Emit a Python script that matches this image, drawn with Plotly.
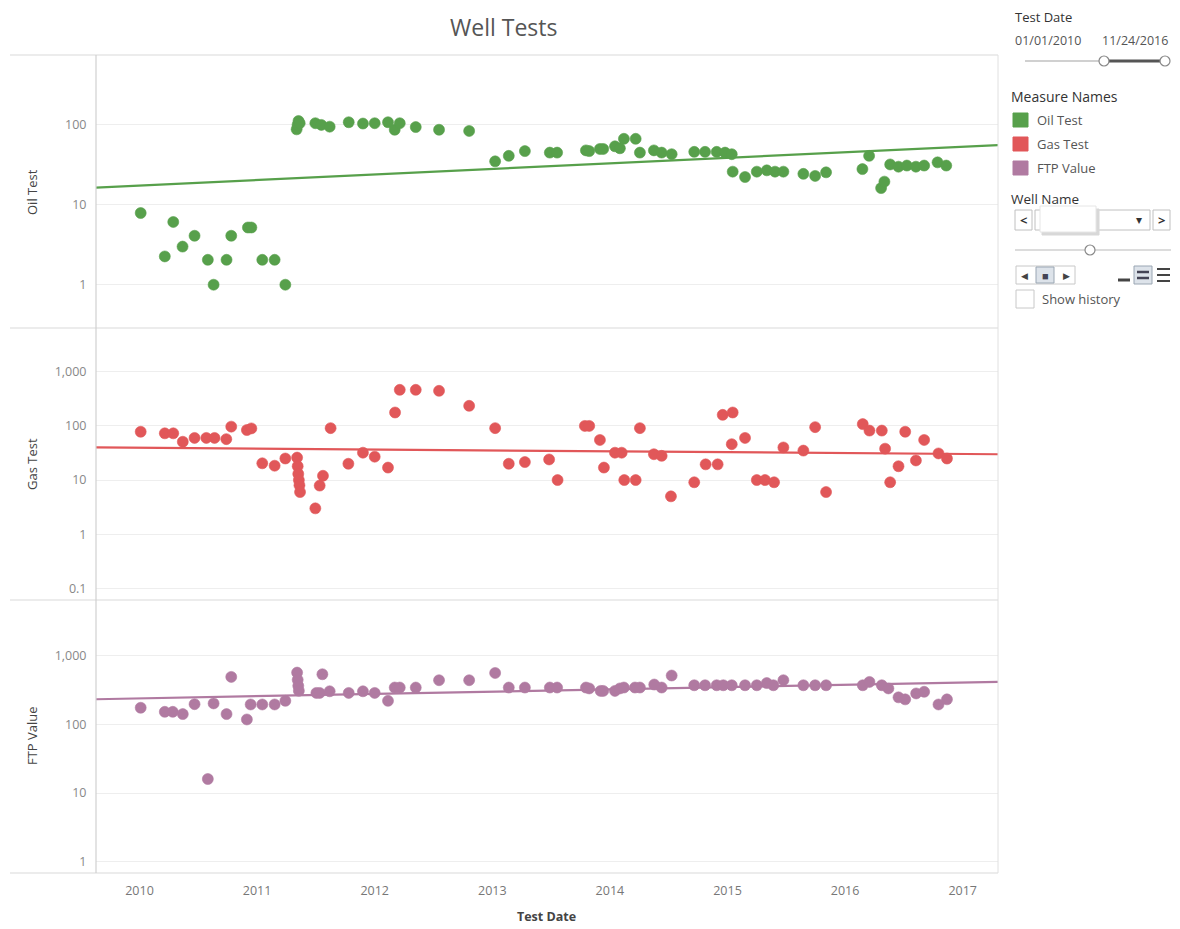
import plotly.graph_objects as go
from plotly.subplots import make_subplots

# ---------------- data ----------------
oil_dates = [2010.01, 2010.215, 2010.287, 2010.366, 2010.468, 2010.581, 2010.630, 2010.740,
             2010.780, 2010.922, 2010.951, 2011.044, 2011.149, 2011.240, 2011.336, 2011.344,
             2011.352, 2011.362, 2011.495, 2011.546, 2011.617, 2011.779, 2011.900, 2012.000,
             2012.113, 2012.170, 2012.213, 2012.349, 2012.547, 2012.803, 2013.024, 2013.140,
             2013.277, 2013.489, 2013.551, 2013.796, 2013.824, 2013.915, 2013.943, 2014.043,
             2014.085, 2014.119, 2014.219, 2014.255, 2014.374, 2014.440, 2014.525, 2014.717,
             2014.809, 2014.908, 2014.979, 2015.036, 2015.044, 2015.149, 2015.249, 2015.334,
             2015.404, 2015.475, 2015.645, 2015.745, 2015.838, 2016.147, 2016.204, 2016.306,
             2016.334, 2016.383, 2016.454, 2016.525, 2016.602, 2016.672, 2016.786, 2016.860]
oil_values = [7.9, 2.26, 6.1, 3.0, 4.1, 2.05, 1.0, 2.05,
              4.1, 5.2, 5.2, 2.05, 2.05, 1.0, 88, 100,
              112, 105, 105, 100, 95, 108, 104, 105,
              108, 87, 105, 94, 87, 84, 35, 41,
              47, 45, 45, 48, 47, 50, 50, 54,
              51, 67, 67, 45, 48, 45, 43, 46,
              46, 46, 45, 43, 26, 22.3, 26, 27,
              26, 26, 24.4, 23, 25.5, 28, 41, 16.2,
              19.5, 32, 30, 31, 30, 31, 34, 31]

gas_dates = [2010.01, 2010.215, 2010.287, 2010.368, 2010.468, 2010.568, 2010.638, 2010.738,
             2010.780, 2010.913, 2010.951, 2011.044, 2011.149, 2011.240, 2011.340, 2011.345,
             2011.350, 2011.355, 2011.360, 2011.365, 2011.495, 2011.532, 2011.560, 2011.625,
             2011.776, 2011.900, 2012.000, 2012.113, 2012.173, 2012.213, 2012.349, 2012.547,
             2012.803, 2013.024, 2013.140, 2013.277, 2013.483, 2013.555, 2013.787, 2013.824,
             2013.915, 2013.949, 2014.043, 2014.100, 2014.122, 2014.219, 2014.255, 2014.374,
             2014.440, 2014.519, 2014.717, 2014.814, 2014.916, 2014.959, 2015.044, 2015.036,
             2015.149, 2015.249, 2015.319, 2015.396, 2015.475, 2015.645, 2015.745, 2015.838,
             2016.150, 2016.207, 2016.312, 2016.340, 2016.383, 2016.454, 2016.511, 2016.602,
             2016.672, 2016.794, 2016.866]
gas_values = [78, 73, 73, 51, 60, 60, 60, 57,
              97, 84, 90, 20.4, 18.4, 25, 26, 18,
              13, 10, 8, 6, 3.0, 7.9, 12, 91,
              20, 32, 27, 17, 177, 464, 464, 445,
              235, 91, 20, 21.5, 24, 10, 100, 100,
              55, 17, 32, 32, 10, 10, 91, 30,
              28, 5.0, 9.1, 19.5, 19.5, 160, 177, 46,
              60, 10, 10, 9.1, 40, 35, 95, 6.0,
              108, 82, 82, 38, 9.1, 18, 78, 23,
              55, 31, 25]

ftp_dates = [2010.01, 2010.215, 2010.283, 2010.368, 2010.468, 2010.581, 2010.630, 2010.740,
             2010.780, 2010.913, 2010.945, 2011.044, 2011.149, 2011.240, 2011.340, 2011.345,
             2011.350, 2011.355, 2011.504, 2011.532, 2011.555, 2011.617, 2011.779, 2011.900,
             2012.000, 2012.113, 2012.170, 2012.213, 2012.349, 2012.547, 2012.803, 2013.024,
             2013.140, 2013.277, 2013.489, 2013.551, 2013.796, 2013.824, 2013.921, 2013.943,
             2014.043, 2014.085, 2014.119, 2014.213, 2014.255, 2014.377, 2014.440, 2014.525,
             2014.717, 2014.809, 2014.908, 2014.964, 2015.036, 2015.149, 2015.249, 2015.334,
             2015.390, 2015.475, 2015.645, 2015.745, 2015.838, 2016.150, 2016.207, 2016.312,
             2016.368, 2016.454, 2016.511, 2016.604, 2016.672, 2016.794, 2016.866]
ftp_values = [173, 151, 151, 140, 195, 16, 200, 140,
              485, 117, 193, 193, 193, 218, 560, 440,
              360, 305, 284, 284, 530, 300, 284, 300,
              284, 218, 340, 340, 340, 434, 434, 553,
              340, 340, 340, 340, 340, 330, 304, 304,
              304, 330, 340, 340, 340, 376, 340, 508,
              367, 367, 367, 367, 367, 367, 367, 395,
              367, 434, 367, 367, 367, 367, 410, 367,
              330, 245, 229, 279, 295, 193, 229]

# trend lines (value at left and right edge of the date axis)
trend_dates = [2009.63, 2017.30]
oil_trend = [16.4, 56]
gas_trend = [40, 30]
ftp_trend = [230, 410]

year_ticks = [2010, 2011, 2012, 2013, 2014, 2015, 2016, 2017]
oil_ticks = [1, 10, 100]
oil_tick_text = ["1", "10", "100"]
gas_ticks = [0.1, 1, 10, 100, 1000]
gas_tick_text = ["0.1", "1", "10", "100", "1,000"]
ftp_ticks = [1, 10, 100, 1000]
ftp_tick_text = ["1", "10", "100", "1,000"]

measure_names = ["Oil Test", "Gas Test", "FTP Value"]
colors = ["#57A04B", "#E15759", "#B07AA1"]

# ---------------- figure ----------------
OFF = 8                     # page body margin of the browser
W, H = 1180 - 2 * OFF, 929 - OFF
PL, PR, PT, PB = 96, 998, 55, 873   # plot area in page pixels
ML, MR, MT, MB = PL - OFF, W - (PR - OFF), PT - OFF, H - (PB - OFF)
PW = W - ML - MR
PH = H - MT - MB


def X(px):
    return (px - OFF - ML) / PW


def Y(py):
    return (H - MB - (py - OFF)) / PH


FONT = "Open Sans"

fig = make_subplots(rows=3, cols=1, shared_xaxes=True, vertical_spacing=0)

series = [(oil_dates, oil_values, oil_trend), (gas_dates, gas_values, gas_trend),
          (ftp_dates, ftp_values, ftp_trend)]
for i, (d, v, t) in enumerate(series):
    fig.add_trace(go.Scatter(x=trend_dates, y=t, mode="lines",
                             line=dict(color=colors[i], width=2.2),
                             showlegend=False, hoverinfo="skip"), row=i + 1, col=1)
    fig.add_trace(go.Scatter(x=d, y=v, mode="markers", name=measure_names[i],
                             marker=dict(size=11, color=colors[i],
                                         line=dict(width=0.6, color=colors[i])),
                             showlegend=False), row=i + 1, col=1)

axis_common = dict(showline=False, zeroline=False)
for r in (1, 2, 3):
    fig.update_xaxes(range=[2009.63, 2017.30], tickvals=year_ticks, showgrid=False,
                     ticks="outside", ticklen=6, tickcolor="rgba(0,0,0,0)",
                     tickfont=dict(family=FONT, size=12.5, color="#777"),
                     showticklabels=(r == 3), row=r, col=1, **axis_common)

yspecs = [([-0.5375, 2.875], oil_ticks, oil_tick_text),
          ([-1.222, 3.815], gas_ticks, gas_tick_text),
          ([-0.16, 3.797], ftp_ticks, ftp_tick_text)]
for r, (rng, tv, tt) in enumerate(yspecs, start=1):
    fig.update_yaxes(type="log", range=rng, tickvals=tv, ticktext=tt,
                     showgrid=True, gridcolor="#eeeeee", gridwidth=1,
                     ticks="outside", ticklen=6, tickcolor="rgba(0,0,0,0)",
                     tickfont=dict(family=FONT, size=12.5, color="#888"),
                     row=r, col=1, **axis_common)

shapes = []
# panel borders / separators
for py in (55, 328, 600, 873):
    shapes.append(dict(type="line", xref="paper", yref="paper", x0=X(10), x1=X(998),
                       y0=Y(py), y1=Y(py), line=dict(color="#d9d9d9", width=1.2)))
shapes.append(dict(type="line", xref="paper", yref="paper", x0=0, x1=0, y0=0, y1=1,
                   line=dict(color="#d0d0d0", width=1.2)))
shapes.append(dict(type="line", xref="paper", yref="paper", x0=1, x1=1, y0=0, y1=1,
                   line=dict(color="#e0e0e0", width=1)))

annotations = []


def txt(text, px, py, size=12, color="#555", anchor="left", weight=None, angle=0, family=FONT):
    f = dict(family=family, size=size, color=color)
    if weight:
        f["weight"] = weight
    annotations.append(dict(text=text, x=X(px), y=Y(py), xref="paper", yref="paper",
                            xanchor=anchor, yanchor="middle", showarrow=False,
                            font=f, textangle=angle))


def rect(x0, y0, x1, y1, fill="white", line="#c8c8c8", width=1):
    shapes.append(dict(type="rect", xref="paper", yref="paper", x0=X(x0), x1=X(x1),
                       y0=Y(y0), y1=Y(y1), fillcolor=fill, line=dict(color=line, width=width)))


def hline(x0, x1, py, color="#cccccc", width=1.5):
    shapes.append(dict(type="line", xref="paper", yref="paper", x0=X(x0), x1=X(x1),
                       y0=Y(py), y1=Y(py), line=dict(color=color, width=width)))


def circle(cx, cy, r, fill="white", line="#888"):
    shapes.append(dict(type="circle", xref="paper", yref="paper", x0=X(cx - r), x1=X(cx + r),
                       y0=Y(cy - r), y1=Y(cy + r), fillcolor=fill, line=dict(color=line, width=1.2)))


# title and axis titles
txt("Well Tests", 503, 27, size=23, color="#555", anchor="center")
txt("Test Date", 546, 916, size=12.5, color="#444", anchor="center", weight="bold")
txt("Oil Test", 32, 192, size=13, color="#444", anchor="center", angle=-90)
txt("Gas Test", 32, 464, size=13, color="#444", anchor="center", angle=-90)
txt("FTP Value", 32, 736, size=13, color="#444", anchor="center", angle=-90)

# right-hand panel: date filter
txt("Test Date", 1013, 17, size=13, color="#333")
txt("01/01/2010", 1013, 41, size=12.5, color="#555")
txt("11/24/2016", 1170, 41, size=12.5, color="#555", anchor="right")
hline(1025, 1104, 61, color="#d0d0d0", width=2)
hline(1104, 1165, 61, color="#555", width=3)
circle(1104, 61, 5)
circle(1165, 61, 5)

# legend
txt("Measure Names", 1009, 97, size=14, color="#333")
for i, name in enumerate(measure_names):
    cy = 120 + 24 * i
    rect(1013, cy - 7, 1028, cy + 7, fill=colors[i], line=colors[i])
    txt(name, 1035, cy, size=13, color="#555")

# well name selector
txt("Well Name", 1009, 199, size=13.5, color="#333")
rect(1015, 210, 1032, 230, fill="white", line="#c0c0c0")
txt("<", 1023, 220, size=13, color="#333", anchor="center", weight="bold")
rect(1035, 210, 1150, 230, fill="white", line="#c0c0c0")
rect(1042, 209, 1099, 235, fill="#d8d8d8", line="#d8d8d8")
rect(1040, 206, 1096, 232, fill="white", line="#e6e6e6")
txt("▾", 1139, 220, size=12, color="#333", anchor="center")
rect(1153, 210, 1170, 230, fill="white", line="#c0c0c0")
txt(">", 1161, 220, size=13, color="#333", anchor="center", weight="bold")
hline(1015, 1171, 250, color="#d0d0d0", width=1.5)
circle(1090, 250, 5)

# playback controls
rect(1016, 266, 1075, 284, fill="white", line="#c8c8c8")
txt("◀", 1024, 275, size=9, color="#444", anchor="center")
rect(1036, 267, 1054, 283, fill="#dde3ea", line="#9aa6b3")
txt("■", 1045, 275, size=11, color="#445", anchor="center")
txt("▶", 1066, 275, size=9, color="#444", anchor="center")
hline(1118, 1130, 280, color="#444", width=3)
rect(1134, 266, 1152, 284, fill="#dde3ea", line="#9aa6b3")
hline(1137, 1149, 272, color="#445", width=2.5)
hline(1137, 1149, 278, color="#445", width=2.5)
hline(1157, 1170, 269, color="#444", width=2)
hline(1157, 1170, 275, color="#444", width=2)
hline(1157, 1170, 281, color="#444", width=2)

# show history
rect(1016, 290, 1034, 308, fill="white", line="#c8c8c8")
txt("Show history", 1040, 299, size=13, color="#555")

fig.update_layout(width=W, height=H, margin=dict(l=ML, r=MR, t=MT, b=MB),
                  paper_bgcolor="white", plot_bgcolor="white",
                  font=dict(family=FONT), shapes=shapes, annotations=annotations,
                  showlegend=False)

fig.write_html("out.html")
